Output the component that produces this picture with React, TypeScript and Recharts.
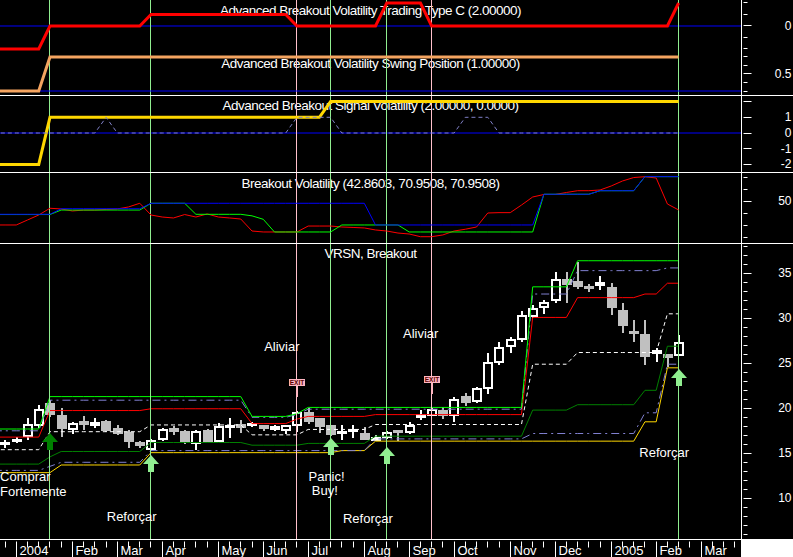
import React from 'react'
import { ComposedChart, Line, Bar, XAxis, YAxis, ReferenceLine, ReferenceDot } from 'recharts'

// Weekly bars, first entry is a lead-in week that only carries indicator values
const weeks = [
  '2003-12-15', '2003-12-22', '2003-12-29', '2004-01-05', '2004-01-12', '2004-01-19', '2004-01-26',
  '2004-02-02', '2004-02-09', '2004-02-16', '2004-02-23', '2004-03-01', '2004-03-08', '2004-03-15',
  '2004-03-22', '2004-03-29', '2004-04-05', '2004-04-12', '2004-04-19', '2004-04-26', '2004-05-03',
  '2004-05-10', '2004-05-17', '2004-05-24', '2004-05-31', '2004-06-07', '2004-06-14', '2004-06-21',
  '2004-06-28', '2004-07-05', '2004-07-12', '2004-07-19', '2004-07-26', '2004-08-02', '2004-08-09',
  '2004-08-16', '2004-08-23', '2004-08-30', '2004-09-06', '2004-09-13', '2004-09-20', '2004-09-27',
  '2004-10-04', '2004-10-11', '2004-10-18', '2004-10-25', '2004-11-01', '2004-11-08', '2004-11-15',
  '2004-11-22', '2004-11-29', '2004-12-06', '2004-12-13', '2004-12-20', '2004-12-27', '2005-01-03',
  '2005-01-10', '2005-01-17', '2005-01-24', '2005-01-31', '2005-02-07', '2005-02-14',
]

// VRSN weekly OHLC
const open = [
  null, 15.95, 16.2, 16.85, 18.0, 20.55, 19.25, 17.6, 18.6, 18.1, 18.6, 17.8, 17.4, 16.3, 15.4, 16.5,
  17.7, 17.5, 16.0, 17.6, 16.3, 17.8, 18.2, 18.1, 18.0, 17.7, 17.48, 18.07, 19.6, 18.9, 18.1, 17.2,
  17.4, 17.3, 16.5, 16.7, 17.55, 17.3, 18.9, 19.2, 19.8, 19.1, 21.4, 20.7, 22.1, 25.0, 26.8, 27.6,
  30.2, 31.1, 31.95, 34.4, 34.2, 33.5, 33.7, 33.45, 30.9, 28.6, 28.25, 26.1, 25.9, 25.85,
]
const high = [
  null, 16.5, 16.8, 18.9, 20.4, 20.9, 20.0, 18.5, 19.1, 18.9, 18.7, 18.1, 17.6, 16.4, 16.6, 17.8,
  18.05, 17.6, 17.55, 17.7, 18.4, 18.9, 18.7, 18.5, 18.2, 18.2, 18.2, 19.7, 20.0, 18.95, 18.15, 18.1,
  18.1, 17.95, 17.0, 17.5, 17.6, 18.45, 19.8, 20.0, 20.1, 21.3, 21.7, 22.4, 26.1, 27.35, 27.9, 30.8,
  31.5, 32.05, 35.15, 35.1, 36.3, 33.8, 34.7, 33.9, 31.7, 29.8, 29.8, 26.7, 25.95, 28.1,
]
const low = [
  null, 15.6, 16.1, 16.5, 17.8, 19.0, 16.85, 17.2, 17.6, 17.8, 17.4, 17.0, 15.6, 15.6, 15.2, 16.4,
  17.0, 16.0, 15.4, 16.2, 16.2, 16.7, 17.3, 17.9, 17.5, 17.5, 17.2, 17.4, 18.3, 17.3, 16.9, 16.5,
  16.7, 16.45, 16.4, 16.6, 16.4, 17.1, 18.7, 19.1, 18.85, 18.5, 20.3, 20.6, 21.6, 24.8, 26.2, 27.4,
  30.0, 30.45, 31.7, 31.7, 33.3, 32.9, 33.1, 30.4, 28.35, 27.4, 24.85, 25.1, 24.6, 25.8,
]
const close = [
  null, 16.2, 16.6, 18.3, 19.9, 19.25, 17.7, 18.4, 18.1, 18.35, 17.5, 17.2, 16.3, 15.8, 16.5, 17.7,
  17.45, 16.3, 17.5, 16.3, 18.0, 18.1, 17.95, 18.3, 17.8, 17.9, 18.14, 19.6, 18.5, 17.96, 17.0, 17.45,
  17.7, 16.5, 16.75, 17.4, 17.3, 18.1, 19.4, 19.95, 19.15, 21.07, 20.6, 22.25, 25.2, 26.8, 27.7, 30.4,
  31.2, 31.8, 34.4, 33.75, 33.5, 33.35, 33.9, 31.1, 29.1, 28.3, 25.75, 26.4, 25.7, 27.4,
]

// Breakout bands on the price pane
const bandTop = [
  17.7, 17.7, 17.7, 17.7, 17.7, 21.3, 21.3, 21.3, 21.3, 21.3, 21.3, 21.3, 21.3, 21.3, 21.3, 21.3,
  21.3, 21.3, 21.3, 21.3, 21.3, 21.3, 21.3, 19.1, 19.1, 19.1, 19.1, 19.4, 20.1, 20.1, 20.1, 20.1,
  20.1, 20.1, 20.1, 20.1, 20.1, 20.1, 20.1, 20.1, 20.1, 20.1, 20.1, 20.1, 20.1, 20.1, 20.1, 20.1,
  33.5, 33.5, 33.5, 33.5, 36.4, 36.4, 36.4, 36.4, 36.4, 36.4, 36.4, 36.4, 36.4, 36.4,
]
const upperDash = [
  17.5, 17.5, 17.5, 17.5, 17.5, 20.9, 20.9, 20.9, 20.9, 20.9, 20.9, 20.9, 20.9, 20.9, 20.9, 20.9,
  20.9, 20.9, 20.9, 20.9, 20.9, 20.9, 20.9, 19.0, 19.0, 19.0, 19.0, 19.3, 19.9, 19.9, 19.9, 19.9,
  19.9, 19.9, 19.9, 19.9, 19.9, 19.9, 19.9, 19.9, 19.9, 19.9, 19.9, 19.9, 19.9, 19.9, 19.9, 19.9,
  32.7, 32.7, 32.7, 32.7, 35.3, 35.3, 35.3, 35.3, 35.3, 35.3, 35.3, 35.3, 35.6, 35.6,
]
const redBand = [
  16.8, 16.8, 16.8, 16.8, 16.8, 19.75, 19.75, 19.75, 19.75, 19.75, 19.75, 19.75, 19.75, 19.75, 19.95, 19.95,
  19.95, 19.95, 19.95, 19.95, 19.95, 19.95, 19.95, 18.3, 18.3, 18.3, 18.3, 18.8, 19.1, 19.1, 19.1, 19.1,
  19.1, 19.1, 19.3, 19.3, 19.3, 19.3, 19.3, 19.3, 19.3, 19.3, 19.3, 19.3, 19.3, 19.3, 19.3, 19.3,
  30.1, 30.1, 30.1, 30.1, 32.3, 32.3, 32.3, 32.3, 32.3, 32.3, 32.7, 32.7, 33.9, 33.9,
]
const midDash = [
  15.4, 15.4, 15.4, 15.4, 15.4, 17.4, 17.4, 17.4, 17.4, 17.4, 17.4, 17.4, 17.4, 17.4, 18.15, 18.15,
  18.15, 18.15, 18.15, 18.15, 18.15, 18.15, 18.15, 17.05, 17.05, 17.05, 17.05, 17.05, 17.65, 17.65, 17.65, 17.65,
  17.65, 17.65, 18.2, 18.2, 18.2, 18.2, 18.2, 18.2, 18.2, 18.2, 18.2, 18.2, 18.2, 18.2, 18.2, 18.2,
  24.9, 24.9, 24.9, 24.9, 26.2, 26.2, 26.2, 26.2, 26.2, 26.2, 26.2, 26.2, 30.5, 30.5,
]
const darkBand = [
  13.8, 13.8, 13.8, 13.8, 13.8, 14.6, 15.2, 15.2, 15.2, 15.2, 15.2, 15.2, 15.2, 15.2, 16.2, 16.2,
  16.2, 16.2, 16.2, 16.2, 16.2, 16.2, 16.2, 15.9, 15.9, 15.9, 15.9, 15.9, 16.1, 16.1, 16.1, 16.1,
  16.1, 16.1, 16.9, 16.9, 16.9, 16.9, 16.9, 16.9, 16.9, 16.9, 16.9, 16.9, 16.9, 16.9, 16.9, 16.9,
  19.8, 19.8, 19.8, 19.8, 20.4, 20.4, 20.4, 20.4, 20.4, 20.4, 22.0, 22.0, 26.9, 26.9,
]
const lowerDash = [
  13.1, 13.1, 13.1, 13.1, 13.1, 13.55, 14.0, 14.0, 14.0, 14.0, 14.0, 14.0, 14.0, 14.0, 15.3, 15.3,
  15.3, 15.3, 15.3, 15.3, 15.3, 15.3, 15.3, 15.3, 15.3, 15.3, 15.3, 15.3, 15.3, 15.3, 15.3, 15.3,
  15.3, 15.3, 16.6, 16.6, 16.6, 16.6, 16.6, 16.6, 16.6, 16.6, 16.6, 16.6, 16.6, 16.6, 16.6, 16.6,
  17.2, 17.2, 17.2, 17.2, 17.2, 17.2, 17.2, 17.2, 17.2, 17.2, 19.5, 19.5, 24.9, 24.9,
]
const yellowBand = [
  12.85, 12.85, 12.85, 12.85, 12.85, 12.85, 13.7, 13.7, 13.7, 13.7, 13.7, 13.7, 13.7, 13.7, 15.07, 15.07,
  15.07, 15.07, 15.07, 15.07, 15.07, 15.07, 15.07, 15.07, 15.07, 15.07, 15.07, 15.07, 15.07, 15.07, 15.07, 15.3,
  15.3, 15.3, 16.35, 16.35, 16.35, 16.35, 16.35, 16.35, 16.35, 16.35, 16.35, 16.35, 16.35, 16.35, 16.35, 16.35,
  16.35, 16.35, 16.35, 16.35, 16.35, 16.35, 16.35, 16.35, 16.35, 16.35, 18.5, 18.5, 24.5, 24.5,
]

// Advanced Breakout Volatility Trading Type C
const tradeType = [
  -1, -1, -1, -1, -1, 0, 0, 0, 0, 0, 0, 0, 0, 0, 0.5, 0.5,
  0.5, 0.5, 0.5, 0.5, 0.5, 0.5, 0.5, 0.5, 0.5, 0.5, 0.5, 0, 0, 0, 0, 0,
  0, 0, 0, 1, 1, 1, 1, 0, 0, 0, 0, 0, 0, 0, 0, 0,
  0, 0, 0, 0, 0, 0, 0, 0, 0, 0, 0, 0, 0, 1,
]
// Advanced Breakout Volatility Swing Position
const swing = [
  0, 0, 0, 0, 0, 1, 1, 1, 1, 1, 1, 1, 1, 1, 1, 1,
  1, 1, 1, 1, 1, 1, 1, 1, 1, 1, 1, 1, 1, 1, 1, 1,
  1, 1, 1, 1, 1, 1, 1, 1, 1, 1, 1, 1, 1, 1, 1, 1,
  1, 1, 1, 1, 1, 1, 1, 1, 1, 1, 1, 1, 1, 1,
]
// Advanced Breakout Signal Volatility
const signal = [
  -2, -2, -2, -2, -2, 1, 1, 1, 1, 1, 1, 1, 1, 1, 1, 1,
  1, 1, 1, 1, 1, 1, 1, 1, 1, 1, 1, 1, 1, 1, 2, 2,
  2, 2, 2, 2, 2, 2, 2, 2, 2, 2, 2, 2, 2, 2, 2, 2,
  2, 2, 2, 2, 2, 2, 2, 2, 2, 2, 2, 2, 2, 2,
]
const signalAlt = [
  0, 0, 0, 0, 0, 0, 0, 0, 0, 0, 1, 0, 0, 0, 0, 0,
  0, 0, 0, 0, 0, 0, 0, 0, 0, 0, 0, 1, 1, 1, 1, 0,
  0, 0, 0, 0, 0, 0, 0, 0, 0, 0, 1, 1, 1, 0, 0, 0,
  0, 0, 0, 0, 0, 0, 0, 0, 0, 0, 0, 0, 0, 0,
]
// Breakout Volatility
const volRed = [
  30.2, 30.2, 30.2, 34.4, 38.6, 44.3, 43.7, 42.0, 42.8, 42.8, 43.3, 43.7, 45.4, 48.5, 38.6, 36.9,
  36.1, 39.0, 36.9, 39.5, 36.9, 36.1, 35.2, 25.1, 24.3, 24.3, 24.3, 24.3, 29.3, 29.3, 29.3, 28.5,
  28.1, 27.7, 26.0, 25.1, 23.4, 22.6, 20.3, 20.3, 21.8, 25.1, 26.6, 28.5, 40.3, 40.6, 40.6, 47.0,
  53.8, 55.9, 55.9, 57.6, 59.1, 59.1, 59.7, 63.1, 67.3, 70.2, 70.9, 69.8, 47.9, 42.86,
]
const volBlue = [
  39.2, 39.2, 39.2, 39.2, 39.2, 39.2, 43.9, 43.9, 43.9, 43.9, 43.9, 43.9, 43.9, 43.9, 48.5, 48.5,
  48.5, 48.5, 48.5, 48.5, 48.5, 48.5, 48.5, 48.5, 48.5, 48.5, 48.5, 48.5, 48.5, 48.5, 48.5, 48.5,
  48.5, 48.5, 30.2, 30.2, 30.2, 30.2, 30.2, 30.2, 30.2, 30.2, 30.2, 30.2, 30.2, 30.2, 30.2, 30.2,
  30.2, 56.1, 56.1, 56.1, 56.1, 56.1, 59.1, 59.1, 59.1, 59.1, 70.95, 70.95, 70.95, 70.95,
]
const volGreen = [
  39.0, 39.0, 39.0, 39.0, 39.0, 39.0, 42.8, 42.8, 42.8, 42.8, 42.8, 42.8, 42.8, 42.8, 48.5, 48.5,
  48.5, 48.5, 39.2, 39.2, 39.2, 39.2, 39.2, 37.9, 35.0, 24.3, 24.3, 24.3, 24.3, 24.3, 24.3, 30.2,
  30.2, 30.2, 30.2, 30.2, 30.2, 24.3, 24.3, 24.3, 24.3, 24.3, 24.3, 24.3, 24.3, 24.3, 24.3, 24.3,
  24.3, 56.1, 56.1, 56.1, 56.1, 56.1, 59.1, 59.1, 59.1, 59.1, 70.95, 70.95, 70.95, 70.95,
]

// bottom axis: week index where each month starts
const monthStarts = [1, 6, 10, 14, 19, 23, 27, 32, 36, 40, 45, 49, 54, 58, 62]
const monthLabels = ['2004', 'Feb', 'Mar', 'Apr', 'May', 'Jun', 'Jul', 'Aug', 'Sep', 'Oct', 'Nov', 'Dec', '2005', 'Feb', 'Mar']

// signal weeks
const buyWeeks = [4, 13, 29, 34, 60]
const exitWeeks = [26, 38]
const arrows = [
  { at: 4, price: 17.22, strong: true },
  { at: 13, price: 14.81, strong: false },
  { at: 29, price: 16.67, strong: false },
  { at: 34, price: 15.73, strong: false },
  { at: 60, price: 24.37, strong: false },
]
const exits = [
  { at: 26, price: 21.29 },
  { at: 38, price: 21.59 },
]
const notes = [
  { at: -0.44, price: 11.92, text: 'Comprar' },
  { at: -0.44, price: 10.26, text: 'Fortemente' },
  { at: 9.06, price: 7.48, text: 'Reforçar' },
  { at: 23.08, price: 26.4, text: 'Aliviar' },
  { at: 27.03, price: 11.9, text: 'Panic!' },
  { at: 27.33, price: 10.36, text: 'Buy!' },
  { at: 30.1, price: 7.26, text: 'Reforçar' },
  { at: 35.45, price: 27.81, text: 'Aliviar' },
  { at: 56.5, price: 14.64, text: 'Reforçar' },
]

const rows = weeks.map((week, k) => ({
  i: k - 1,
  week,
  open: open[k],
  high: high[k],
  low: low[k],
  close: close[k],
  bandTop: bandTop[k],
  upperDash: upperDash[k],
  redBand: redBand[k],
  midDash: midDash[k],
  darkBand: darkBand[k],
  lowerDash: lowerDash[k],
  yellowBand: yellowBand[k],
  tradeType: tradeType[k],
  swing: swing[k],
  signal: signal[k],
  signalAlt: signalAlt[k],
  volRed: volRed[k],
  volBlue: volBlue[k],
  volGreen: volGreen[k],
}))

const FONT = "'Liberation Sans', Arial, sans-serif"
const W = 793
const AXIS_W = 51.5
const X_DOMAIN: [number, number] = [-0.45, 65.6]
const M = { top: 0, right: 0, bottom: 0, left: 0 }
const weekTicks = Array.from({ length: 66 }, (_, k) => k)
const LIGHT_GREEN = '#90EE90'
const PINK = '#FFC0CB'

const rightTick = (labeled: number[], longAll = false) => (props: any) => {
  const { x, y, payload } = props
  const v = payload.value
  const hasLabel = labeled.includes(v)
  const yy = Math.round(y - 0.5) + 0.5
  return (
    <g>
      <line x1={x} x2={x + (hasLabel || longAll ? 8 : 4)} y1={yy} y2={yy} stroke="#fff" />
      {hasLabel && (
        <text x={x + 48} y={y + 4} textAnchor="end" fill="#fff" fontSize={12} fontFamily={FONT}>
          {v}
        </text>
      )}
    </g>
  )
}

const bottomTick = (props: any) => {
  const { x, y, payload } = props
  const k = monthStarts.indexOf(payload.value)
  const xx = Math.round(x - 0.5) + 0.5
  return (
    <g>
      <line x1={xx} x2={xx} y1={y} y2={y + (k >= 0 ? 18 : 6)} stroke="#fff" />
      {k >= 0 && (
        <text x={xx + 3} y={y + 13.5} fill="#fff" fontSize={13} fontFamily={FONT}>
          {monthLabels[k]}
        </text>
      )}
    </g>
  )
}

const vline = (color: string) => (p: any) => {
  const x = Math.round(p.x1 - 0.5) + 0.5
  return <line x1={x} x2={x} y1={p.y1} y2={p.y2} stroke={color} strokeWidth={1} />
}

function Candle(props: any) {
  const { x, y, width, height, payload } = props
  if (payload.open == null || !isFinite(y) || !isFinite(height)) return null
  const { open: o, high: h, low: l, close: c } = payload
  const top = Math.min(y, y + height)
  const bottom = Math.max(y, y + height)
  const px = (v: number) => top + ((h - v) / (h - l)) * (bottom - top)
  const cx = Math.round(x + width / 2)
  const up = c >= o
  const color = up ? '#fff' : '#C0C0C0'
  const yh = Math.round(px(h))
  const yl = Math.round(px(l))
  const bt = Math.round(px(Math.max(o, c)))
  const bb = Math.round(px(Math.min(o, c)))
  const wick = <rect x={cx - 1} y={yh} width={2} height={Math.max(yl - yh, 1)} fill={color} />
  if (bb - bt < 3) {
    return (
      <g>
        {wick}
        <rect x={cx - 5} y={bt - 1} width={10} height={bb - bt + 2} fill={color} />
      </g>
    )
  }
  if (up) {
    return (
      <g>
        {wick}
        <rect x={cx - 4} y={bt + 1} width={8} height={bb - bt - 2} fill="#000" stroke="#fff" strokeWidth={2} />
      </g>
    )
  }
  return (
    <g>
      {wick}
      <rect x={cx - 5} y={bt} width={10} height={bb - bt} fill={color} />
    </g>
  )
}

const arrowShape = (color: string) => (p: any) => {
  const cx = Math.round(p.cx)
  const cy = Math.round(p.cy)
  const pts = [
    [cx, cy], [cx + 8, cy + 9], [cx + 3, cy + 9], [cx + 3, cy + 17],
    [cx - 3, cy + 17], [cx - 3, cy + 9], [cx - 8, cy + 9],
  ]
  return <polygon points={pts.map((q) => q.join(',')).join(' ')} fill={color} />
}

const exitShape = (p: any) => {
  const cx = Math.round(p.cx)
  const cy = Math.round(p.cy)
  return (
    <g>
      <rect x={cx - 1} y={cy - 11} width={2} height={11} fill="#FFB6C1" />
      <rect x={cx - 8} y={cy - 18} width={16} height={7} fill="#FFB6C1" />
      <text x={cx} y={cy - 12} textAnchor="middle" fontSize={6.5} fontWeight="bold" fill="#5a0000" fontFamily={FONT}>
        EXIT
      </text>
    </g>
  )
}

const noteShape = (text: string) => (p: any) => (
  <text x={p.cx} y={p.cy} fill="#fff" fontSize={13} fontFamily={FONT}>
    {text}
  </text>
)

const hiddenX = () => <XAxis type="number" dataKey="i" domain={X_DOMAIN} allowDataOverflow hide />

const rightY = (domain: [number, number], ticks: number[], labeled: number[], longAll = false) => (
  <YAxis
    orientation="right"
    type="number"
    width={AXIS_W}
    domain={domain}
    allowDataOverflow
    ticks={ticks}
    interval={0}
    tickSize={0}
    tickLine={false}
    axisLine={{ stroke: '#fff' }}
    tick={rightTick(labeled, longAll)}
  />
)

const signalLines = () => [
  ...buyWeeks.map((w) => <ReferenceLine key={'b' + w} x={w} stroke={LIGHT_GREEN} shape={vline(LIGHT_GREEN)} />),
  ...exitWeeks.map((w) => <ReferenceLine key={'e' + w} x={w} stroke={PINK} shape={vline(PINK)} />),
]

const line = (key: string, color: string, width = 1, dash?: string) => (
  <Line
    dataKey={key}
    stroke={color}
    strokeWidth={width}
    strokeDasharray={dash}
    dot={false}
    activeDot={false}
    isAnimationActive={false}
  />
)

const titles = [
  { y: 15, text: 'Advanced Breakout Volatility Trading Type C (2.00000)' },
  { y: 68, text: 'Advanced Breakout Volatility Swing Position (1.00000)' },
  { y: 110, text: 'Advanced Breakout Signal Volatility (2.00000, 0.0000)' },
  { y: 188, text: 'Breakout Volatility (42.8603, 70.9508, 70.9508)' },
  { y: 258, text: 'VRSN, Breakout' },
]

const pane = (top: number): React.CSSProperties => ({ position: 'absolute', left: 0, top })

export default function App() {
  return (
    <div style={{ position: 'absolute', left: 0, top: 0, width: W, height: 557, background: '#000', overflow: 'hidden', fontFamily: FONT }}>
      <svg width={W} height={557} style={{ position: 'absolute', left: 0, top: 0 }}>
        {titles.map((t) => (
          <text key={t.text} x={370.5} y={t.y} textAnchor="middle" fill="#fff" fontSize={13.5} letterSpacing={-0.5} fontFamily={FONT}>
            {t.text}
          </text>
        ))}
      </svg>

      {/* trading type */}
      <div style={pane(0)}>
        <ComposedChart width={W} height={95} data={rows} margin={M}>
          {hiddenX()}
          {rightY([-3.0, 1.1304], [-1, -0.5, 0, 0.5, 1], [0])}
          <ReferenceLine y={0} stroke="#0000FF" />
          {signalLines()}
          {line('tradeType', '#FF0000', 3)}
        </ComposedChart>
      </div>

      {/* swing position, same pane */}
      <div style={pane(0)}>
        <ComposedChart width={W} height={95} data={rows} margin={M}>
          {hiddenX()}
          {rightY([-0.1176, 2.676], [0, 0.25, 0.5, 0.75, 1], [0.5])}
          <ReferenceLine y={0} stroke="#0000FF" />
          {line('swing', '#F4A460', 3)}
        </ComposedChart>
      </div>

      {/* signal volatility */}
      <div style={pane(96)}>
        <ComposedChart width={W} height={76} data={rows} margin={M}>
          {hiddenX()}
          {rightY([-2.484, 2.357], [-2, -1, 0, 1, 2], [-2, -1, 0, 1], true)}
          <ReferenceLine y={0} stroke="#0000FF" />
          {signalLines()}
          {line('signal', '#FFD700', 3)}
          {line('signalAlt', '#8080C8', 1, '4 3')}
        </ComposedChart>
      </div>

      {/* breakout volatility */}
      <div style={pane(173)}>
        <ComposedChart width={W} height={70} data={rows} margin={M}>
          {hiddenX()}
          {rightY([15.0, 74.03], [20, 30, 40, 50, 60, 70], [50])}
          {signalLines()}
          {line('volRed', '#FF0000')}
          {line('volGreen', '#00FF00')}
          {line('volBlue', '#0000FF')}
        </ComposedChart>
      </div>

      {/* price pane */}
      <div style={pane(244)}>
        <ComposedChart width={W} height={313} data={rows} margin={M}>
          <XAxis
            type="number"
            dataKey="i"
            domain={X_DOMAIN}
            allowDataOverflow
            ticks={weekTicks}
            interval={0}
            minTickGap={0}
            height={17.5}
            tickSize={0}
            tickLine={false}
            axisLine={{ stroke: '#fff' }}
            tick={bottomTick}
          />
          {rightY(
            [5.42, 38.26],
            [6, 7, 8, 9, 10, 11, 12, 13, 14, 15, 16, 17, 18, 19, 20, 21, 22, 23, 24, 25, 26, 27, 28, 29, 30, 31, 32, 33, 34, 35, 36, 37, 38],
            [10, 15, 20, 25, 30, 35],
          )}
          <Bar dataKey={(d: any) => (d.low == null ? null : [d.low, d.high])} barSize={10} shape={Candle} isAnimationActive={false} />
          {line('yellowBand', '#FFD700')}
          {line('lowerDash', '#8080D0', 1, '8 4 2 4')}
          {line('darkBand', '#008000')}
          {line('midDash', '#FFFFFF', 1, '4 3')}
          {line('redBand', '#FF0000')}
          {line('upperDash', '#8080D0', 1, '8 4 2 4')}
          {line('bandTop', '#00FF00')}
          {signalLines()}
          {arrows.map((a) => (
            <ReferenceDot key={'a' + a.at} x={a.at} y={a.price} r={0} ifOverflow="visible" shape={arrowShape(a.strong ? '#008000' : LIGHT_GREEN)} />
          ))}
          {exits.map((e) => (
            <ReferenceDot key={'x' + e.at} x={e.at} y={e.price} r={0} ifOverflow="visible" shape={exitShape} />
          ))}
          {notes.map((n, k) => (
            <ReferenceDot key={'n' + k} x={n.at} y={n.price} r={0} ifOverflow="visible" shape={noteShape(n.text)} />
          ))}
        </ComposedChart>
      </div>

      <svg width={W} height={557} style={{ position: 'absolute', left: 0, top: 0, pointerEvents: 'none' }}>
        <rect x={0} y={95} width={W} height={1} fill="#fff" />
        <rect x={0} y={172} width={W} height={1} fill="#fff" />
        <rect x={0} y={243} width={W} height={1} fill="#fff" />
        <rect x={741} y={539} width={52} height={18} fill="#fff" />
      </svg>
    </div>
  )
}
